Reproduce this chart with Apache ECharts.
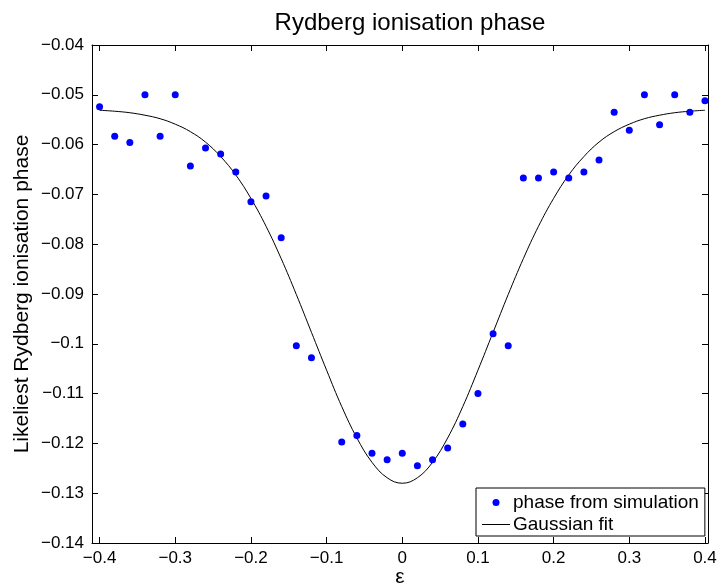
<!DOCTYPE html>
<html>
<head>
<meta charset="utf-8">
<script src="https://cdn.jsdelivr.net/npm/echarts@6/dist/echarts.min.js"></script>
<style>
html,body{margin:0;padding:0;background:#fff;}
#chart{width:717px;height:585px;}
</style>
</head>
<body>
<div id="chart"></div>
<script>
// ---- data ----
const titleText = 'Rydberg ionisation phase';
const xName = 'ε';
const yName = 'Likeliest Rydberg ionisation phase';
const simName = 'phase from simulation';
const fitName = 'Gaussian fit';

const simX = [-0.40,-0.38,-0.36,-0.34,-0.32,-0.30,-0.28,-0.26,-0.24,-0.22,-0.20,-0.18,-0.16,
              -0.14,-0.12,
              -0.08,-0.06,-0.04,-0.02,0.00,0.02,0.04,0.06,0.08,0.10,0.12,0.14,
              0.16,0.18,0.20,0.22,0.24,0.26,0.28,0.30,0.32,0.34,0.36,0.38,0.40];
const simY = [-0.0524,-0.0583,-0.0596,-0.0500,-0.0583,-0.0500,-0.0643,-0.0607,-0.0619,-0.0655,-0.0715,-0.0703,-0.0787,
              -0.1004,-0.1028,
              -0.1197,-0.1184,-0.1220,-0.1233,-0.1220,-0.1245,-0.1233,-0.1209,-0.1161,-0.1100,-0.0980,-0.1004,
              -0.0667,-0.0667,-0.0655,-0.0667,-0.0655,-0.0631,-0.0535,-0.0571,-0.0500,-0.0560,-0.0500,-0.0535,-0.0512];

const fitX = [-0.40,-0.38,-0.36,-0.34,-0.32,-0.30,-0.28,-0.26,-0.24,-0.22,-0.20,-0.18,-0.16,-0.14,-0.12,-0.10,-0.08,-0.06,-0.04,-0.02,
              0.00,0.02,0.04,0.06,0.08,0.10,0.12,0.14,0.16,0.18,0.20,0.22,0.24,0.26,0.28,0.30,0.32,0.34,0.36,0.38,0.40];
const fitY = [-0.0531,-0.0533,-0.0536,-0.0541,-0.0548,-0.0559,-0.0574,-0.0595,-0.0624,-0.0661,-0.0708,-0.0764,-0.0829,-0.0901,-0.0977,-0.1053,-0.1126,-0.1189,-0.1238,-0.1269,
              -0.1280,-0.1269,-0.1238,-0.1189,-0.1126,-0.1053,-0.0977,-0.0901,-0.0829,-0.0764,-0.0708,-0.0661,-0.0624,-0.0595,-0.0574,-0.0559,-0.0548,-0.0541,-0.0536,-0.0533,-0.0531];

const xTicks = [-0.4,-0.3,-0.2,-0.1,0,0.1,0.2,0.3,0.4];
const yTicks = [-0.14,-0.13,-0.12,-0.11,-0.10,-0.09,-0.08,-0.07,-0.06,-0.05,-0.04];
const xRange = [-0.41, 0.404];
const yRange = [-0.14, -0.04];

// ---- chart ----
const FONT = '"Liberation Sans", Arial, sans-serif';
function fmt(v){
  const a = +Math.abs(v).toFixed(2);
  return (v < -1e-9 ? '\u2212' : '') + String(a);
}
const axisLineStyle = {show:true, onZero:false, lineStyle:{color:'#000', width:1}};
const tickStyle = {show:true, inside:true, length:6, lineStyle:{color:'#000', width:1}};

const chart = echarts.init(document.getElementById('chart'), null, {renderer:'canvas'});
chart.setOption({
  animation:false,
  backgroundColor:'#fff',
  textStyle:{fontFamily:FONT},
  title:{
    text:titleText, left:405, top:6, textAlign:'center',
    textStyle:{fontFamily:FONT, fontSize:24, fontWeight:'normal', color:'#000'}
  },
  grid:{left:92, right:9, top:45, bottom:42, containLabel:false, outerBoundsMode:'none'},
  legend:{
    show:true,
    left:476, top:488,
    orient:'vertical',
    backgroundColor:'#fff', borderColor:'#000', borderWidth:1, borderRadius:0,
    padding:[5,6,2,6],
    itemGap:3, itemWidth:28, itemHeight:7,
    textStyle:{fontFamily:FONT, fontSize:19, color:'#000', padding:[0,0,0,-2]},
    data:[
      {name:simName, icon:'circle'},
      {name:fitName, icon:'path://M0,3 L28,3 L28,4 L0,4 Z', itemStyle:{color:'#000'}}
    ]
  },
  xAxis:[{
    type:'value', min:xRange[0], max:xRange[1], position:'bottom',
    name:xName, nameLocation:'middle', nameGap:24, nameMoveOverlap:false,
    nameTextStyle:{fontFamily:FONT, fontSize:21, color:'#000'},
    axisLine:axisLineStyle,
    axisTick:Object.assign({customValues:xTicks}, tickStyle),
    axisLabel:{customValues:xTicks, formatter:fmt, fontFamily:FONT, fontSize:17, color:'#000', margin:7},
    splitLine:{show:false}
  },{
    type:'value', min:xRange[0], max:xRange[1], position:'top',
    axisLine:axisLineStyle,
    axisTick:Object.assign({customValues:xTicks}, tickStyle),
    axisLabel:{show:false},
    splitLine:{show:false}
  }],
  yAxis:[{
    type:'value', min:yRange[0], max:yRange[1], position:'left',
    name:yName, nameLocation:'middle', nameGap:59, nameMoveOverlap:false,
    nameTextStyle:{fontFamily:FONT, fontSize:21, color:'#000'},
    axisLine:axisLineStyle,
    axisTick:Object.assign({customValues:yTicks}, tickStyle),
    axisLabel:{customValues:yTicks, formatter:fmt, fontFamily:FONT, fontSize:17, color:'#000', margin:8},
    splitLine:{show:false}
  },{
    type:'value', min:yRange[0], max:yRange[1], position:'right',
    axisLine:axisLineStyle,
    axisTick:Object.assign({customValues:yTicks}, tickStyle),
    axisLabel:{show:false},
    splitLine:{show:false}
  }],
  series:[{
    name:simName, type:'scatter', xAxisIndex:0, yAxisIndex:0,
    symbol:'circle', symbolSize:7,
    itemStyle:{color:'#0000ff', opacity:1},
    data:simX.map((x,i)=>[x, simY[i]]),
    z:3
  },{
    name:fitName, type:'line', xAxisIndex:0, yAxisIndex:0,
    showSymbol:false, symbol:'none', smooth:0.4,
    lineStyle:{color:'#000', width:1},
    itemStyle:{color:'#000'},
    data:fitX.map((x,i)=>[x, fitY[i]]),
    z:2
  }]
});
</script>
</body>
</html>
